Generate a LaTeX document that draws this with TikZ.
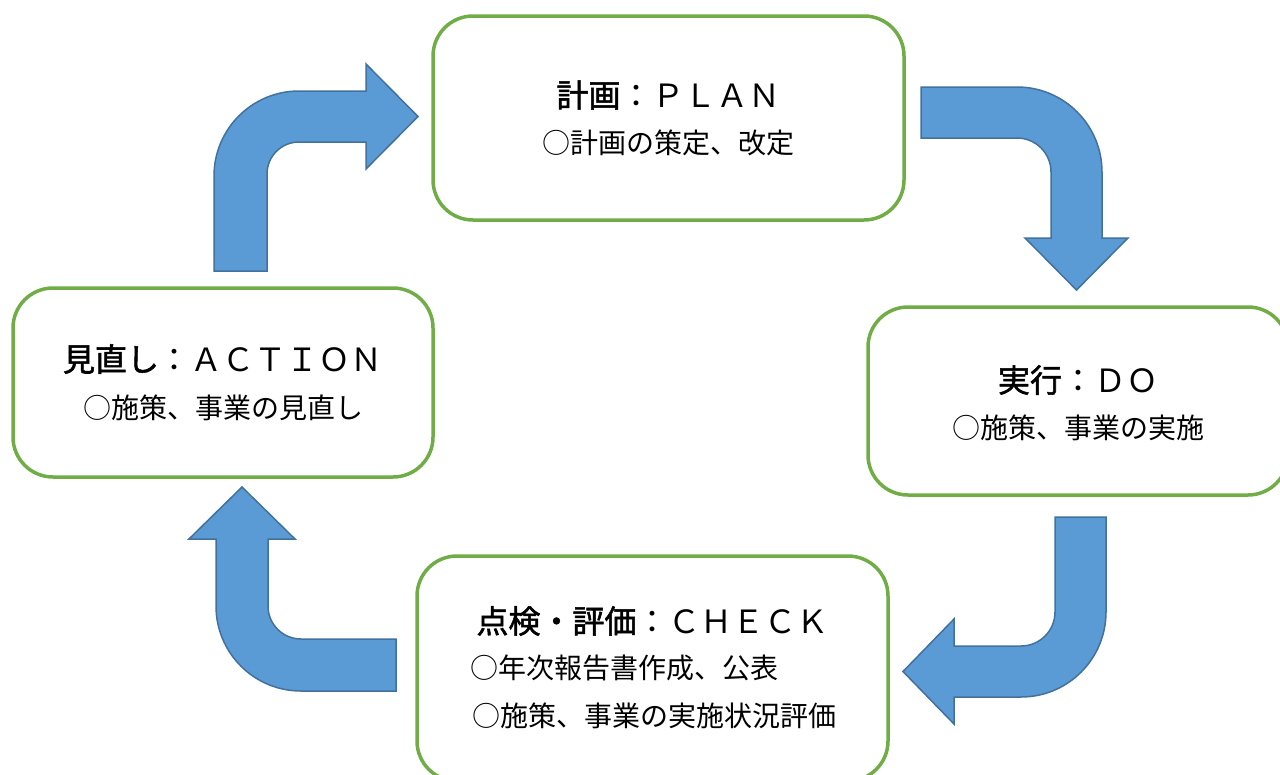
\documentclass[tikz,border=0pt]{standalone}
\usepackage{fontspec}
\setmainfont{Noto Sans CJK JP}
\newfontfamily\headkanji[FakeBold=1.6]{Noto Sans CJK JP}
\definecolor{arrowblue}{HTML}{5B9BD5}
\definecolor{arrowedge}{HTML}{41719C}
\definecolor{boxgreen}{HTML}{70AD47}

\begin{document}
\begin{tikzpicture}[x=1pt, y=-1pt,
    phase/.style={draw=boxgreen, line width=3.5pt, rounded corners=40pt, fill=white, inner sep=0pt},
    turnarrow/.style={fill=arrowblue, draw=arrowedge, line width=1.5pt, line join=miter},
    head/.style={font=\fontsize{32}{36}\selectfont, inner sep=0pt},
    item/.style={font=\fontsize{28}{32}\selectfont, inner sep=0pt}]
    \useasboundingbox (0,0) rectangle (1280,774);

    % Four phase boxes
    \node[phase, minimum width=471pt, minimum height=204pt] (plan) at (668.5,118) {};
    \node[phase, minimum width=420pt, minimum height=188pt] (do) at (1078,401) {};
    \node[phase, minimum width=471pt, minimum height=225pt] (check) at (652.5,668.5) {};
    \node[phase, minimum width=420pt, minimum height=189pt] (act) at (223,382.5) {};

    % Texts in the boxes
    \node[head] (plantitle) at (668.5,95) {{\headkanji 計画}：ＰＬＡＮ};
    \node[item] (planitem) at (668.5,143) {○計画の策定、改定};
    \node[head] (dotitle) at (1078,380) {{\headkanji 実行}：ＤＯ};
    \node[item] (doitem) at (1078,428) {○施策、事業の実施};
    \node[head] (checktitle) at (652.5,621) {{\headkanji 点検・評価}：ＣＨＥＣＫ};
    \node[item, anchor=west] (checkone) at (470,668) {○年次報告書作成、公表};
    \node[item, anchor=west] (checktwo) at (472,716) {○施策、事業の実施状況評価};
    \node[head] (acttitle) at (223,359) {{\headkanji 見直し}：ＡＣＴＩＯＮ};
    \node[item] (actitem) at (223,408) {○施策、事業の見直し};

    % Bent block arrows round the cycle
    \draw[turnarrow] (214,271) -- (214,176) arc[start angle=180, end angle=270, radius=85]
        -- (366,91) -- (366,64) -- (418,116.5) -- (366,169) -- (366,142) -- (299,142)
        arc[start angle=270, end angle=180, radius=32] -- (267,271) -- cycle;
    \draw[turnarrow] (921,87) -- (1017,87) arc[start angle=270, end angle=360, radius=85]
        -- (1102,238) -- (1128,238) -- (1076.5,290) -- (1025,238) -- (1051,238) -- (1051,172)
        arc[start angle=0, end angle=-90, radius=34] -- (921,138) -- cycle;
    \draw[turnarrow] (1055,517) -- (1106,517) -- (1106,612) arc[start angle=0, end angle=90, radius=85]
        -- (954,697) -- (954,724) -- (903,671.5) -- (954,619) -- (954,646) -- (1021,646)
        arc[start angle=90, end angle=0, radius=34] -- cycle;
    \draw[turnarrow] (396,639) -- (396,691) -- (301,691) arc[start angle=90, end angle=180, radius=85]
        -- (216,539) -- (189,539) -- (242,487) -- (295,539) -- (268,539) -- (268,606)
        arc[start angle=180, end angle=90, radius=33] -- cycle;
\end{tikzpicture}
\end{document}
